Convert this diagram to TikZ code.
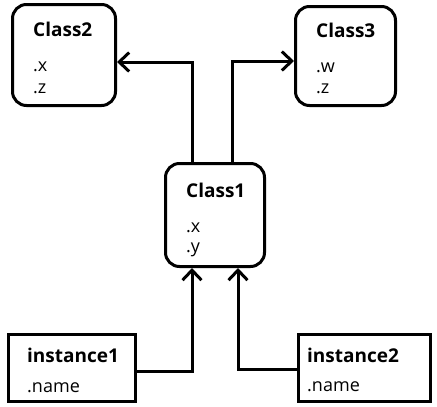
\documentclass[tikz,border=0pt]{standalone}
\usepackage{fontspec}
\setmainfont{Open Sans}
\usetikzlibrary{arrows.meta,positioning,calc}
\tikzset{
  >={Straight Barb[length=10pt,width=19pt]},
  cls/.style={draw,line width=3pt,rounded corners=14pt},
  obj/.style={draw,line width=3pt},
  title/.style={font=\fontsize{19}{24}\selectfont\bfseries,anchor=base west,inner sep=0pt},
  attr/.style={font=\fontsize{18}{22}\selectfont,anchor=base west,inner sep=0pt},
  link/.style={->,line width=3pt},
}
\begin{document}
\begin{tikzpicture}[x=1pt,y=-1pt]
  \useasboundingbox (0,0) rectangle (437,407);
  % classes
  \node[cls,minimum width=103pt,minimum height=101pt] (c2) at (64,55) {};
  \node[cls,minimum width=100pt,minimum height=99pt] (c3) at (345.5,56) {};
  \node[cls,minimum width=99pt,minimum height=103pt] (c1) at (215,215) {};
  % instances
  \node[obj,minimum width=127pt,minimum height=67pt] (i1) at (72,368) {};
  \node[obj,minimum width=132pt,minimum height=67pt] (i2) at (364.5,368) {};
  % texts
  \node[title] (c2t) at (33,36) {Class2};
  \node[attr] (c2x) at (33,71) {.x};
  \node[attr] (c2z) at (33,93) {.z};
  \node[title] (c3t) at (316,37) {Class3};
  \node[attr] (c3w) at (316,72) {.w};
  \node[attr] (c3z) at (316,93) {.z};
  \node[title] (c1t) at (186,197) {Class1};
  \node[attr] (c1x) at (186,232) {.x};
  \node[attr] (c1y) at (186,252) {.y};
  \node[title] (i1t) at (27,362) {instance1};
  \node[attr] (i1n) at (27,392) {.name};
  \node[title] (i2t) at (307,362) {instance2};
  \node[attr] (i2n) at (307,391) {.name};
  % links
  \draw[link] ([xshift=-23pt]c1.north) |- ([yshift=-7pt]c2.east);
  \draw[link] ([xshift=17pt]c1.north) |- ([yshift=-5pt]c3.west);
  \draw[link] ([yshift=-3pt]i1.east) -| ([xshift=-23pt]c1.south);
  \draw[link] ([yshift=-1pt]i2.west) -| ([xshift=23pt]c1.south);
\end{tikzpicture}
\end{document}
